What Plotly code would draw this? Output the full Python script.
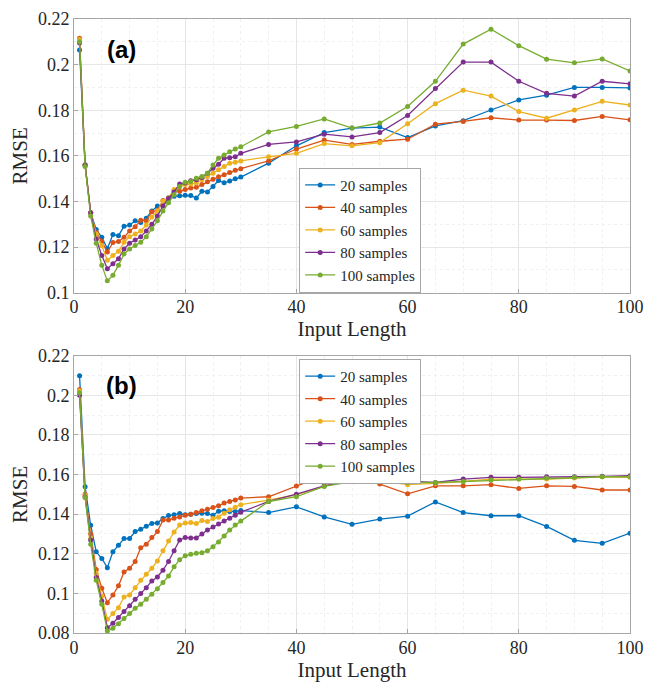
import plotly.graph_objects as go

# ---------------- data ----------------
input_length = list(range(1, 31)) + list(range(35, 101, 5))

series_names = ["20 samples", "40 samples", "60 samples", "80 samples", "100 samples"]

a_20 = [0.2064, 0.1560, 0.1351, 0.1277, 0.1243, 0.1194, 0.1255, 0.1250, 0.1291, 0.1297,
        0.1315, 0.1308, 0.1327, 0.1358, 0.1380, 0.1381, 0.1416, 0.1423, 0.1425, 0.1427,
        0.1426, 0.1415, 0.1445, 0.1442, 0.1466, 0.1492, 0.1482, 0.1490, 0.1500, 0.1507,
        0.1568, 0.1644, 0.1702, 0.1722, 0.1726, 0.1680, 0.1731, 0.1754, 0.1801, 0.1845,
        0.1866, 0.1900, 0.1900, 0.1898]
a_40 = [0.2116, 0.1560, 0.1351, 0.1264, 0.1225, 0.1178, 0.1220, 0.1225, 0.1243, 0.1271,
        0.1289, 0.1318, 0.1315, 0.1355, 0.1361, 0.1404, 0.1413, 0.1448, 0.1445, 0.1452,
        0.1459, 0.1462, 0.1474, 0.1486, 0.1498, 0.1508, 0.1517, 0.1527, 0.1537, 0.1544,
        0.1578, 0.1630, 0.1669, 0.1650, 0.1664, 0.1673, 0.1739, 0.1751, 0.1767, 0.1757,
        0.1757, 0.1755, 0.1773, 0.1758]
a_60 = [0.2110, 0.1560, 0.1351, 0.1257, 0.1207, 0.1142, 0.1163, 0.1182, 0.1221, 0.1245,
        0.1257, 0.1271, 0.1297, 0.1332, 0.1358, 0.1401, 0.1416, 0.1452, 0.1465, 0.1474,
        0.1477, 0.1481, 0.1495, 0.1510, 0.1524, 0.1539, 0.1553, 0.1568, 0.1572, 0.1578,
        0.1596, 0.1611, 0.1654, 0.1644, 0.1658, 0.1741, 0.1829, 0.1888, 0.1862, 0.1794,
        0.1765, 0.1801, 0.1839, 0.1823]
a_80 = [0.2095, 0.1560, 0.1351, 0.1235, 0.1163, 0.1105, 0.1127, 0.1149, 0.1192, 0.1217,
        0.1231, 0.1245, 0.1271, 0.1300, 0.1336, 0.1380, 0.1413, 0.1442, 0.1477, 0.1481,
        0.1491, 0.1495, 0.1505, 0.1524, 0.1546, 0.1563, 0.1589, 0.1592, 0.1596, 0.1611,
        0.1650, 0.1661, 0.1695, 0.1683, 0.1702, 0.1777, 0.1895, 0.2011, 0.2011, 0.1927,
        0.1874, 0.1862, 0.1927, 0.1916]
a_100 = [0.2100, 0.1553, 0.1336, 0.1217, 0.1120, 0.1052, 0.1077, 0.1120, 0.1170, 0.1192,
         0.1207, 0.1221, 0.1245, 0.1279, 0.1315, 0.1358, 0.1394, 0.1430, 0.1466, 0.1484,
         0.1488, 0.1502, 0.1510, 0.1524, 0.1560, 0.1589, 0.1604, 0.1618, 0.1630, 0.1640,
         0.1705, 0.1729, 0.1762, 0.1722, 0.1744, 0.1816, 0.1927, 0.2090, 0.2155, 0.2083,
         0.2024, 0.2008, 0.2025, 0.1972]

b_20 = [0.2099, 0.1538, 0.1344, 0.1210, 0.1176, 0.1130, 0.1210, 0.1243, 0.1277, 0.1277,
        0.1312, 0.1324, 0.1339, 0.1353, 0.1356, 0.1378, 0.1393, 0.1397, 0.1403, 0.1397,
        0.1400, 0.1403, 0.1405, 0.1403, 0.1395, 0.1415, 0.1417, 0.1414, 0.1414, 0.1418,
        0.1408, 0.1437, 0.1386, 0.1349, 0.1375, 0.1390, 0.1462, 0.1408, 0.1392, 0.1392,
        0.1338, 0.1268, 0.1253, 0.1304]
b_40 = [0.2030, 0.1501, 0.1300, 0.1120, 0.1026, 0.0953, 0.0992, 0.1038, 0.1108, 0.1127,
        0.1161, 0.1231, 0.1248, 0.1282, 0.1312, 0.1370, 0.1370, 0.1380, 0.1386, 0.1395,
        0.1400, 0.1408, 0.1417, 0.1425, 0.1434, 0.1442, 0.1456, 0.1464, 0.1471, 0.1481,
        0.1488, 0.1542, 0.1596, 0.1592, 0.1552, 0.1503, 0.1543, 0.1543, 0.1549, 0.1530,
        0.1543, 0.1540, 0.1522, 0.1522]
b_60 = [0.2023, 0.1496, 0.1280, 0.1100, 0.0985, 0.0869, 0.0898, 0.0928, 0.0982, 0.0992,
        0.1029, 0.1066, 0.1097, 0.1127, 0.1164, 0.1215, 0.1265, 0.1310, 0.1345, 0.1355,
        0.1358, 0.1353, 0.1368, 0.1363, 0.1378, 0.1385, 0.1405, 0.1422, 0.1435, 0.1448,
        0.1471, 0.1498, 0.1542, 0.1582, 0.1569, 0.1549, 0.1555, 0.1565, 0.1577, 0.1577,
        0.1577, 0.1582, 0.1589, 0.1586]
b_80 = [0.2001, 0.1487, 0.1269, 0.1080, 0.0962, 0.0827, 0.0849, 0.0878, 0.0908, 0.0937,
        0.0970, 0.0999, 0.1029, 0.1063, 0.1083, 0.1117, 0.1161, 0.1215, 0.1270, 0.1282,
        0.1280, 0.1280, 0.1300, 0.1320, 0.1335, 0.1350, 0.1365, 0.1380, 0.1395, 0.1410,
        0.1464, 0.1501, 0.1543, 0.1569, 0.1572, 0.1565, 0.1560, 0.1577, 0.1586, 0.1586,
        0.1589, 0.1589, 0.1591, 0.1594]
b_100 = [0.2013, 0.1484, 0.1248, 0.1066, 0.0945, 0.0810, 0.0824, 0.0847, 0.0873, 0.0898,
         0.0925, 0.0945, 0.0970, 0.0996, 0.1024, 0.1055, 0.1088, 0.1134, 0.1170, 0.1190,
         0.1198, 0.1203, 0.1205, 0.1215, 0.1235, 0.1260, 0.1290, 0.1320, 0.1345, 0.1365,
         0.1464, 0.1488, 0.1540, 0.1565, 0.1577, 0.1560, 0.1560, 0.1565, 0.1572, 0.1577,
         0.1582, 0.1586, 0.1589, 0.1589]

x_ticks = [0, 20, 40, 60, 80, 100]
y_ticks_a = [0.1, 0.12, 0.14, 0.16, 0.18, 0.2, 0.22]
y_ticks_b = [0.08, 0.1, 0.12, 0.14, 0.16, 0.18, 0.2, 0.22]
y_ticklabels_a = ["0.1", "0.12", "0.14", "0.16", "0.18", "0.2", "0.22"]
y_ticklabels_b = ["0.08", "0.1", "0.12", "0.14", "0.16", "0.18", "0.2", "0.22"]

colors = ["#0072BD", "#D95319", "#EDB120", "#7E2F8E", "#77AC30"]

# ---------------- figure ----------------
fig = go.Figure()
serif = "Liberation Serif"
sans = "Liberation Sans"

for name, ys, c in zip(series_names, [a_20, a_40, a_60, a_80, a_100], colors):
    fig.add_trace(go.Scatter(x=input_length, y=ys, name=name, mode="lines+markers",
                             line=dict(color=c, width=1.3), marker=dict(color=c, size=5),
                             xaxis="x", yaxis="y", legend="legend"))
for name, ys, c in zip(series_names, [b_20, b_40, b_60, b_80, b_100], colors):
    fig.add_trace(go.Scatter(x=input_length, y=ys, name=name, mode="lines+markers",
                             line=dict(color=c, width=1.3), marker=dict(color=c, size=5),
                             xaxis="x2", yaxis="y2", legend="legend2"))

tick_font = dict(family=serif, size=18, color="#262626")
axis_common = dict(
    showline=True, linecolor="#a6a6a6", linewidth=1, mirror=True,
    ticks="inside", ticklen=4, tickcolor="#a6a6a6",
    showgrid=True, gridcolor="#e6e6e6", gridwidth=1,
    zeroline=False, automargin=False, ticklabeloverflow="allow",
    tickfont=tick_font,
)

title_font = dict(family=serif, size=21, color="#262626")
legend_font = dict(family=serif, size=15, color="#262626")

# page body adds an 8px offset, so the figure is sized 652x676
fig.update_layout(
    width=652, height=676,
    margin=dict(l=66, r=30, t=11, b=51),
    paper_bgcolor="white", plot_bgcolor="white",
    font=dict(family=serif),
    showlegend=True,
    xaxis=dict(**axis_common, domain=[0, 1], range=[0, 100], tickvals=x_ticks,
               anchor="y", ticklabelstandoff=-2,
               minor=dict(showgrid=True, dtick=5, gridcolor="#f0f0f0", griddash="dot"),
               title=dict(text="Input Length", font=title_font, standoff=2)),
    yaxis=dict(**axis_common, domain=[0.5542, 1], range=[0.1, 0.22],
               tickvals=y_ticks_a, ticktext=y_ticklabels_a, anchor="x",
               minor=dict(showgrid=True, dtick=0.01, gridcolor="#f0f0f0", griddash="dot"),
               title=dict(text="RMSE", font=title_font, standoff=4)),
    xaxis2=dict(**axis_common, domain=[0, 1], range=[0, 100], tickvals=x_ticks,
                anchor="y2", ticklabelstandoff=-2,
                minor=dict(showgrid=True, dtick=5, gridcolor="#f0f0f0", griddash="dot"),
                title=dict(text="Input Length", font=title_font, standoff=0)),
    yaxis2=dict(**axis_common, domain=[0, 0.4516], range=[0.08, 0.22],
                tickvals=y_ticks_b, ticktext=y_ticklabels_b, anchor="x2",
                minor=dict(showgrid=True, dtick=0.01, gridcolor="#f0f0f0", griddash="dot"),
                title=dict(text="RMSE", font=title_font, standoff=4)),
    legend=dict(x=0.405, y=0.5542, xanchor="left", yanchor="bottom",
                bgcolor="white", bordercolor="#a6a6a6", borderwidth=1,
                font=legend_font, itemwidth=30, tracegroupgap=0),
    legend2=dict(x=0.405, y=0.4463, xanchor="left", yanchor="top",
                 bgcolor="white", bordercolor="#a6a6a6", borderwidth=1,
                 font=legend_font, itemwidth=30, tracegroupgap=0),
    annotations=[
        dict(text="<b>(a)</b>", xref="x", yref="y", x=8.6, y=0.2066, showarrow=False,
             font=dict(family=sans, size=24, color="black")),
        dict(text="<b>(b)</b>", xref="x2", yref="y2", x=8.6, y=0.2052, showarrow=False,
             font=dict(family=sans, size=24, color="black")),
    ],
)

fig.write_html("out.html")
